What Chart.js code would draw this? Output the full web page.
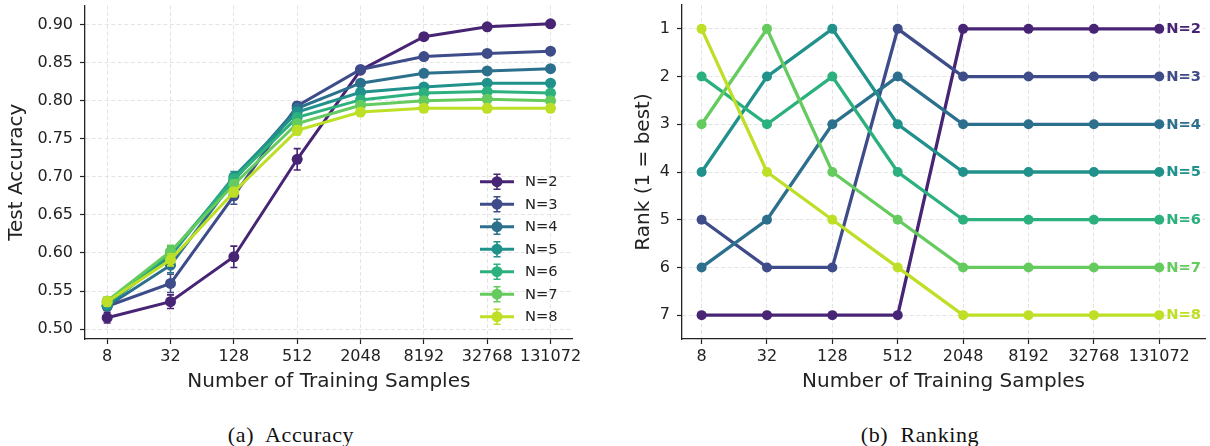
<!DOCTYPE html>
<html>
<head>
<meta charset="utf-8">
<script src="https://cdn.jsdelivr.net/npm/chart.js@4.4.1/dist/chart.umd.min.js"></script>
<style>
    html, body { margin: 0; padding: 0; background: #fff; }
    body { width: 1210px; height: 446px; position: relative; overflow: hidden; }
    #accWrap { position: absolute; left: 0; top: 0; width: 610px; height: 400px; }
    #rankWrap { position: absolute; left: 610px; top: 0; width: 600px; height: 400px; }
    .caption {
        position: absolute; top: 424px;
        font-family: 'Liberation Serif', serif; font-size: 22px; line-height: 22px;
        color: #111; transform: translateX(-50%); white-space: pre; letter-spacing: 0.6px;
    }
</style>
</head>
<body>
<div id="accWrap"><canvas id="accChart" width="610" height="400"></canvas></div>
<div id="rankWrap"><canvas id="rankChart" width="600" height="400"></canvas></div>
<div class="caption" style="left:291px">(a)  Accuracy</div>
<div class="caption" style="left:920px">(b)  Ranking</div>
<script>
// --- dados ---
const xLabels = ["8", "32", "128", "512", "2048", "8192", "32768", "131072"];
const seriesNames = ["N=2", "N=3", "N=4", "N=5", "N=6", "N=7", "N=8"];
const seriesColors = ["#482475", "#3e4c8a", "#2d708e", "#21918c", "#2cb17e", "#65cb5e", "#bddf26"];

// acurácia média por tamanho de treino
const accN2 = [0.515, 0.536, 0.595, 0.723, 0.840, 0.884, 0.897, 0.901];
const accN3 = [0.530, 0.560, 0.675, 0.793, 0.841, 0.858, 0.862, 0.865];
const accN4 = [0.530, 0.584, 0.695, 0.790, 0.823, 0.836, 0.839, 0.842];
const accN5 = [0.532, 0.596, 0.700, 0.785, 0.811, 0.818, 0.823, 0.823];
const accN6 = [0.535, 0.600, 0.697, 0.778, 0.801, 0.810, 0.812, 0.810];
const accN7 = [0.537, 0.602, 0.690, 0.770, 0.794, 0.800, 0.802, 0.800];
const accN8 = [0.536, 0.591, 0.680, 0.761, 0.785, 0.790, 0.790, 0.790];

// barras de erro (±)
const errN2 = [0.007, 0.009, 0.014, 0.014, 0.004, 0.003, 0.003, 0.003];
const errN3 = [0.005, 0.012, 0.011, 0.005, 0.004, 0.003, 0.003, 0.003];
const errN4 = [0.005, 0.010, 0.008, 0.005, 0.004, 0.003, 0.003, 0.003];
const errN5 = [0.005, 0.008, 0.007, 0.005, 0.004, 0.003, 0.003, 0.003];
const errN6 = [0.005, 0.008, 0.006, 0.005, 0.004, 0.003, 0.003, 0.003];
const errN7 = [0.005, 0.008, 0.006, 0.005, 0.004, 0.004, 0.004, 0.004];
const errN8 = [0.006, 0.008, 0.006, 0.006, 0.005, 0.005, 0.005, 0.005];

// ranking (1 = melhor)
const rankN2 = [7, 7, 7, 7, 1, 1, 1, 1];
const rankN3 = [5, 6, 6, 1, 2, 2, 2, 2];
const rankN4 = [6, 5, 3, 2, 3, 3, 3, 3];
const rankN5 = [4, 2, 1, 3, 4, 4, 4, 4];
const rankN6 = [2, 3, 2, 4, 5, 5, 5, 5];
const rankN7 = [3, 1, 4, 5, 6, 6, 6, 6];
const rankN8 = [1, 4, 5, 6, 7, 7, 7, 7];

const accTicks = [0.50, 0.55, 0.60, 0.65, 0.70, 0.75, 0.80, 0.85, 0.90];
const rankTicks = [1, 2, 3, 4, 5, 6, 7];

const accSeries = [accN2, accN3, accN4, accN5, accN6, accN7, accN8];
const errSeries = [errN2, errN3, errN4, errN5, errN6, errN7, errN8];
const rankSeries = [rankN2, rankN3, rankN4, rankN5, rankN6, rankN7, rankN8];

const FONT = "'DejaVu Sans', sans-serif";
const INK = "#222";
Chart.defaults.font.family = FONT;
Chart.defaults.color = INK;

// eixo x comum (posições 0..7 com rótulos de potência)
function eixoX(min, max, altura) {
    return {
        type: "linear",
        min: min,
        max: max,
        afterBuildTicks: s => { s.ticks = xLabels.map((_, i) => ({ value: i })); },
        afterFit: s => { s.height = altura; s.paddingLeft = 0; s.paddingRight = 0; },
        ticks: {
            callback: v => xLabels[v],
            autoSkip: false, maxRotation: 0, minRotation: 0,
            padding: 3, font: { size: 16 }, color: INK
        },
        grid: { color: "#e4e4e4", lineWidth: 1, tickLength: 5, tickColor: INK, tickWidth: 1.2 },
        border: { color: INK, width: 1.3, dash: [4, 2.5] },
        title: {
            display: true, text: "Number of Training Samples",
            font: { size: 20 }, color: INK, padding: { top: 0, bottom: 6 }
        }
    };
}

function eixoY(cfg) {
    return {
        type: "linear",
        min: cfg.min,
        max: cfg.max,
        reverse: !!cfg.reverse,
        afterBuildTicks: s => { s.ticks = cfg.ticks.map(v => ({ value: v })); },
        afterFit: s => { s.width = cfg.largura; s.paddingTop = 0; s.paddingBottom = 0; },
        ticks: { callback: cfg.fmt, padding: 7, font: { size: 16 }, color: INK },
        grid: { color: "#e4e4e4", lineWidth: 1, tickLength: 5, tickColor: INK, tickWidth: 1.2 },
        border: { color: INK, width: 1.3, dash: [4, 2.5] },
        title: {
            display: true, text: cfg.titulo,
            font: { size: 20 }, color: INK, padding: { top: cfg.tituloPad, bottom: 0 }
        }
    };
}

// barras de erro desenhadas antes de cada série
const errorBarPlugin = {
    id: "errorBars",
    beforeDatasetDraw(chart, args) {
        const ds = chart.data.datasets[args.index];
        if (!ds.errors) return;
        const { ctx, scales: { x, y } } = chart;
        ctx.save();
        ctx.strokeStyle = ds.borderColor;
        ctx.lineWidth = 1.6;
        ds.data.forEach((p, i) => {
            const e = ds.errors[i];
            const px = x.getPixelForValue(p.x);
            const y1 = y.getPixelForValue(p.y + e);
            const y2 = y.getPixelForValue(p.y - e);
            ctx.beginPath();
            ctx.moveTo(px, y1); ctx.lineTo(px, y2);
            ctx.moveTo(px - 3.5, y1); ctx.lineTo(px + 3.5, y1);
            ctx.moveTo(px - 3.5, y2); ctx.lineTo(px + 3.5, y2);
            ctx.stroke();
        });
        ctx.restore();
    }
};

// legenda dentro da área do gráfico (canto inferior direito)
const accLegendPlugin = {
    id: "accLegend",
    afterDraw(chart) {
        const { ctx, chartArea } = chart;
        const x0 = chartArea.right - 92.7;
        const y0 = chartArea.bottom - 157.3;
        const passo = 22.5;
        ctx.save();
        chart.data.datasets.forEach((ds, i) => {
            const yy = y0 + i * passo;
            const c = ds.borderColor;
            ctx.strokeStyle = c;
            ctx.lineWidth = 3;
            ctx.beginPath();
            ctx.moveTo(x0, yy); ctx.lineTo(x0 + 34, yy);
            ctx.stroke();
            ctx.lineWidth = 1.6;
            ctx.beginPath();
            ctx.moveTo(x0 + 17, yy - 7.5); ctx.lineTo(x0 + 17, yy + 7.5);
            ctx.moveTo(x0 + 13.5, yy - 7.5); ctx.lineTo(x0 + 20.5, yy - 7.5);
            ctx.moveTo(x0 + 13.5, yy + 7.5); ctx.lineTo(x0 + 20.5, yy + 7.5);
            ctx.stroke();
            ctx.fillStyle = c;
            ctx.beginPath();
            ctx.arc(x0 + 17, yy, 5.5, 0, Math.PI * 2);
            ctx.fill();
            ctx.fillStyle = INK;
            ctx.font = "14.7px " + FONT;
            ctx.textBaseline = "middle";
            ctx.fillText(ds.label, x0 + 45, yy + 0.5);
        });
        ctx.restore();
    }
};

// rótulos N=k ao fim de cada linha do ranking
const rankLabelPlugin = {
    id: "rankLabels",
    afterDatasetsDraw(chart) {
        const { ctx } = chart;
        ctx.save();
        ctx.font = "bold 14.7px " + FONT;
        ctx.textBaseline = "middle";
        chart.data.datasets.forEach((ds, i) => {
            const meta = chart.getDatasetMeta(i);
            const pt = meta.data[meta.data.length - 1];
            ctx.fillStyle = ds.borderColor;
            ctx.fillText(ds.label, pt.x + 7, pt.y + 0.5);
        });
        ctx.restore();
    }
};

const baseOptions = {
    responsive: false,
    animation: false,
    events: [],
    plugins: { legend: { display: false }, tooltip: { enabled: false } }
};

// --- Gráfico (a): acurácia ---
new Chart(document.getElementById("accChart").getContext("2d"), {
    type: "line",
    data: {
        datasets: accSeries.map((serie, k) => ({
            label: seriesNames[k],
            data: serie.map((v, i) => ({ x: i, y: v })),
            errors: errSeries[k],
            borderColor: seriesColors[k],
            backgroundColor: seriesColors[k],
            borderWidth: 3,
            pointRadius: 5.5,
            pointBorderWidth: 0,
            pointBackgroundColor: seriesColors[k],
            tension: 0,
            fill: false,
            order: accSeries.length - k
        }))
    },
    options: {
        ...baseOptions,
        layout: { padding: { left: 0, top: 4, right: 610 - 572.7, bottom: 0 } },
        scales: {
            x: eixoX(-0.35, 7.35, 400 - 339),
            y: eixoY({
                min: 0.487, max: 0.925, ticks: accTicks, largura: 85,
                fmt: v => Number(v).toFixed(2), titulo: "Test Accuracy", tituloPad: 5
            })
        }
    },
    plugins: [errorBarPlugin, accLegendPlugin]
});

// --- Gráfico (b): ranking ---
new Chart(document.getElementById("rankChart").getContext("2d"), {
    type: "line",
    data: {
        datasets: rankSeries.map((serie, k) => ({
            label: seriesNames[k],
            data: serie.map((v, i) => ({ x: i, y: v })),
            borderColor: seriesColors[k],
            backgroundColor: seriesColors[k],
            borderWidth: 3.3,
            pointRadius: 5,
            pointBorderWidth: 0,
            pointBackgroundColor: seriesColors[k],
            tension: 0,
            fill: false,
            order: rankSeries.length - k
        }))
    },
    options: {
        ...baseOptions,
        layout: { padding: { left: 0, top: 4, right: 600 - 596.7, bottom: 0 } },
        scales: {
            x: eixoX(-0.3, 7.7, 400 - 339),
            y: eixoY({
                min: 0.5, max: 7.5, reverse: true, ticks: rankTicks, largura: 72,
                fmt: v => String(v), titulo: "Rank (1 = best)", tituloPad: 22
            })
        }
    },
    plugins: [rankLabelPlugin]
});
</script>
</body>
</html>
